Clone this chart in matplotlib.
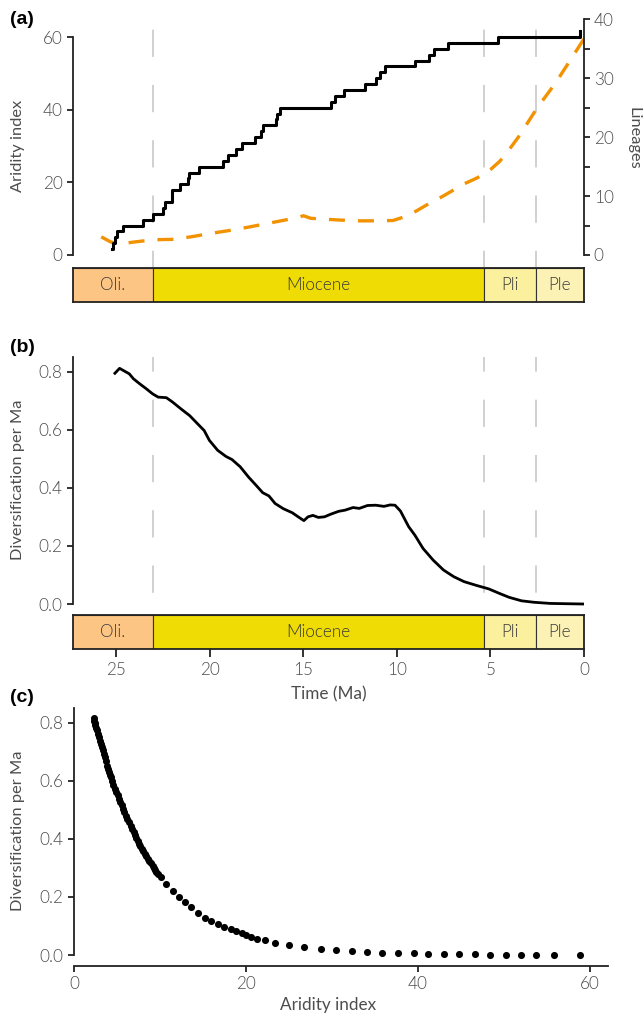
import numpy as np
import matplotlib.pyplot as plt
from matplotlib.patches import Rectangle

plt.rcParams['font.family'] = ['Lato', 'DejaVu Sans']
plt.rcParams['font.weight'] = 300
plt.rcParams['lines.scale_dashes'] = False

# lineages through time (step line), Ma and number of lineages
ltt_time = [25.24, 25.18, 25.09, 24.97, 24.65, 23.55, 23.05, 22.52, 22.40, 22.04,
            22.00, 21.59, 21.15, 21.10, 20.56, 19.30, 19.05, 18.59, 18.26, 17.60,
            17.27, 17.17, 16.46, 16.40, 16.24, 13.54, 13.32, 12.82, 11.68, 11.13,
            10.91, 10.62, 9.04, 8.27, 8.01, 7.29, 4.61, 0.20]
ltt_n = [1, 2, 3, 4, 5, 6, 7, 8, 9, 10,
         11, 12, 13, 14, 15, 16, 17, 18, 19, 20,
         21, 22, 23, 24, 25, 26, 27, 28, 29, 30,
         31, 32, 33, 34, 35, 36, 37, 38]

# aridity index through time (dashed orange)
arid_time = [25.8, 25.3, 24.9, 24.0, 23.0, 22.0, 21.0, 20.0, 19.0, 18.0, 17.0, 16.0,
             15.3, 15.0, 14.6, 14.0, 13.0, 12.0, 11.0, 10.2, 9.6, 9.0, 8.4, 7.5, 7.0,
             6.4, 5.8, 5.35, 5.0, 4.5, 4.0, 3.5, 3.0, 2.5, 2.0, 1.5, 1.0, 0.5, 0.0]
arid_val = [5.0, 3.6, 3.0, 3.6, 4.2, 4.3, 5.0, 5.9, 6.7, 7.6, 8.6, 9.6,
            10.3, 10.8, 10.1, 9.9, 9.6, 9.4, 9.4, 9.5, 10.5, 12.0, 13.8, 16.3, 17.8,
            19.6, 21.0, 22.2, 23.5, 25.8, 29.0, 32.5, 36.5, 40.5, 44.0, 47.5, 51.5, 55.5, 59.5]

# diversification rate through time
div_time = [25.07, 24.82, 24.63, 24.30, 24.08, 23.75, 23.42, 23.05, 22.76, 22.32,
            21.99, 21.55, 21.07, 20.68, 20.30, 20.02, 19.58, 19.14, 18.81, 18.37,
            17.93, 17.49, 17.17, 16.84, 16.51, 16.07, 15.59, 15.23, 14.97, 14.75,
            14.49, 14.20, 13.87, 13.54, 13.11, 12.77, 12.34, 12.01, 11.57, 11.13,
            10.69, 10.36, 10.10, 9.81, 9.37, 9.04, 8.60, 8.06, 7.51, 6.96,
            6.41, 5.75, 5.09, 4.54, 4.00, 3.34, 2.68, 1.80, 0.92, 0.00]
div_rate = [0.794, 0.811, 0.804, 0.792, 0.775, 0.758, 0.742, 0.723, 0.712, 0.710,
            0.695, 0.672, 0.648, 0.622, 0.597, 0.563, 0.529, 0.508, 0.497, 0.472,
            0.437, 0.406, 0.383, 0.372, 0.346, 0.328, 0.314, 0.298, 0.287, 0.300,
            0.305, 0.298, 0.300, 0.309, 0.319, 0.323, 0.332, 0.329, 0.339, 0.340,
            0.336, 0.341, 0.340, 0.320, 0.266, 0.237, 0.191, 0.151, 0.117, 0.094,
            0.077, 0.064, 0.052, 0.037, 0.023, 0.011, 0.006, 0.002, 0.001, 0.000]

# diversification vs aridity (panel c)
sc_arid = [2.29, 2.35, 2.42, 2.48, 2.56, 2.63, 2.74, 2.86, 2.98, 3.10, 3.22, 3.34,
           3.46, 3.58, 3.70, 3.82, 3.96, 4.10, 4.20, 4.30, 4.44, 4.58, 4.75, 4.92,
           5.08, 5.25, 5.40, 5.54, 5.70, 5.87, 6.04, 6.21, 6.40, 6.59, 6.75, 6.92,
           7.09, 7.26, 7.40, 7.54, 7.71, 7.88, 8.05, 8.21, 8.40, 8.59, 8.78, 8.97,
           9.14, 9.31, 9.43, 9.55, 9.80, 10.12, 10.74, 11.46, 12.22, 12.89, 13.60,
           14.42, 15.18, 15.99, 16.71, 17.47, 18.23, 18.85, 19.57, 20.05, 20.62,
           21.29, 22.2, 23.4, 25.06, 26.8, 28.7, 30.5, 32.3, 34.1, 35.85, 37.7,
           39.5, 41.2, 43.05, 44.8, 46.6, 48.4, 50.2, 51.94, 53.7, 55.85, 58.85]
sc_div = [0.815, 0.805, 0.797, 0.790, 0.781, 0.773, 0.762, 0.750, 0.738, 0.727, 0.715, 0.704,
          0.692, 0.681, 0.666, 0.652, 0.640, 0.629, 0.620, 0.612, 0.598, 0.584, 0.572, 0.561,
          0.550, 0.538, 0.526, 0.515, 0.503, 0.492, 0.480, 0.469, 0.456, 0.443, 0.433, 0.423,
          0.412, 0.401, 0.392, 0.383, 0.374, 0.366, 0.357, 0.349, 0.340, 0.332, 0.323, 0.315,
          0.306, 0.298, 0.292, 0.286, 0.278, 0.267, 0.246, 0.221, 0.200, 0.183, 0.164,
          0.146, 0.129, 0.118, 0.105, 0.096, 0.088, 0.081, 0.074, 0.069, 0.063,
          0.056, 0.051, 0.041, 0.033, 0.026, 0.022, 0.016, 0.013, 0.009, 0.008, 0.007,
          0.006, 0.005, 0.003, 0.003, 0.002, 0.001, 0.001, 0.001, 0.0, 0.0, 0.0]

# geological epochs
epoch_names = ['Oli.', 'Miocene', 'Pli', 'Ple']
epoch_start = [33.9, 23.03, 5.333, 2.58]
epoch_end = [23.03, 5.333, 2.58, 0.0]
epoch_colors = ['#fdc583', '#efdc04', '#faf09e', '#fdf2b6']
boundaries = [23.03, 5.333, 2.58]

W, H = 644, 1015
txt = '#4d4d4d'
ink = '#222222'
orange = '#f39200'
vgrey = '#c8c8c8'
xmax = 27.31
fs = 12.3     # tick labels / epoch names
lfs = 11.8    # axis titles


def box(l, t, r, b):
    return [l / W, 1 - b / H, (r - l) / W, (b - t) / H]


def style_left(ax):
    for s in ['top', 'right', 'bottom']:
        ax.spines[s].set_visible(False)
    ax.spines['left'].set_color(ink)
    ax.spines['left'].set_linewidth(1.3)
    ax.tick_params(axis='y', colors=ink, labelcolor=txt, labelsize=fs,
                   length=4, width=1.3, pad=3.5)
    ax.set_xticks([])
    ax.patch.set_alpha(0)


def timescale(rect, ticks):
    bx = fig.add_axes(rect)
    bx.set_xlim(xmax, 0)
    bx.set_ylim(0, 1)
    for i in range(len(epoch_names)):
        bx.add_patch(Rectangle((epoch_end[i], 0), epoch_start[i] - epoch_end[i], 1,
                               facecolor=epoch_colors[i], edgecolor='#333333', lw=0.8))
        mid = (min(epoch_start[i], xmax) + epoch_end[i]) / 2
        bx.text(mid, 0.5, epoch_names[i], ha='center', va='center',
                fontsize=fs, color='#3a3a3a')
    for s in bx.spines.values():
        s.set_color(ink)
        s.set_linewidth(1.3)
    bx.set_yticks([])
    if ticks:
        bx.set_xticks([25, 20, 15, 10, 5, 0])
        bx.tick_params(axis='x', colors=ink, labelcolor=txt, labelsize=fs,
                       length=5.5, width=1.3, pad=4)
    else:
        bx.set_xticks([])
    return bx


fig = plt.figure(figsize=(6.44, 10.15), dpi=100)

# ---- panel (a)
ax_a = fig.add_axes(box(73, 15, 584, 262))
style_left(ax_a)
lo, hi = -1.93, 66.06
ax_a.set_xlim(xmax, 0)
ax_a.set_ylim(lo, hi)
ax_a.spines['left'].set_bounds(0, 60)
ax_a.set_yticks([0, 20, 40, 60])
for t in boundaries:
    ax_a.plot([t, t], [-6.34, 62.5], color=vgrey, lw=1.2,
              ls=(0, (19.6, 20.2)), clip_on=False, zorder=1)
ax_a.plot(arid_time, arid_val, color=orange, lw=2.4, ls=(0, (11.5, 9.4)), zorder=3)
ax_a.set_ylabel('Aridity index', fontsize=lfs, color=txt)
ax_a.yaxis.set_label_coords(-0.1076, 0.47)
ax_a.yaxis.label.set_va('center')

ax_l = ax_a.twinx()
ax_l.set_xlim(xmax, 0)
ax_l.set_ylim(lo * 37 / 60, hi * 37 / 60)
ax_l.plot(ltt_time, ltt_n, drawstyle='steps-post', color='black', lw=2.2, zorder=4)
for s in ['top', 'left', 'bottom']:
    ax_l.spines[s].set_visible(False)
ax_l.spines['right'].set_bounds(0, 40)
ax_l.spines['right'].set_color(ink)
ax_l.spines['right'].set_linewidth(1.3)
ax_l.set_yticks([0, 10, 20, 30, 40])
ax_l.set_yticks([5, 15, 25, 35], minor=True)
ax_l.tick_params(axis='y', which='both', colors=ink, labelcolor=txt, labelsize=fs,
                 length=4, width=1.3, pad=3)
ax_l.set_ylabel('Lineages', fontsize=lfs, color=txt, rotation=-90)
ax_l.yaxis.set_label_coords(1.096, 0.502)
ax_l.yaxis.label.set_va('center')

timescale(box(73, 268, 584, 302), False)

# ---- panel (b)
ax_b = fig.add_axes(box(73, 357, 584, 610))
style_left(ax_b)
ax_b.set_xlim(xmax, 0)
ax_b.set_ylim(-0.0206, 0.85)
ax_b.spines['left'].set_bounds(0, 0.85)
ax_b.set_yticks([0, 0.2, 0.4, 0.6, 0.8])
ax_b.set_yticklabels(['0.0', '0.2', '0.4', '0.6', '0.8'])
for t in boundaries:
    ax_b.plot([t, t], [-0.1514, 0.85], color=vgrey, lw=1.2,
              ls=(0, (19.6, 20.2)), clip_on=False, zorder=1)
ax_b.plot(div_time, div_rate, color='black', lw=2.0, zorder=3)
ax_b.set_ylabel('Diversification per Ma', fontsize=lfs, color=txt)
ax_b.yaxis.set_label_coords(-0.1076, 0.514)
ax_b.yaxis.label.set_va('center')

bx_b = timescale(box(73, 615, 584, 649), True)
bx_b.set_xlabel('Time (Ma)', fontsize=fs, color=txt)
bx_b.xaxis.set_label_coords(0.5, -1.32)
bx_b.xaxis.label.set_va('center')

# ---- panel (c)
ax_c = fig.add_axes(box(74, 708, 608, 960))
for s in ['top', 'right']:
    ax_c.spines[s].set_visible(False)
for s in ['left', 'bottom']:
    ax_c.spines[s].set_color(ink)
    ax_c.spines[s].set_linewidth(1.3)
ax_c.spines['bottom'].set_position(('outward', 4.3))
ax_c.spines['left'].set_bounds(0, 0.85)
ax_c.set_xlim(0, 62.1)
ax_c.set_ylim(-0.0172, 0.85)
ax_c.scatter(sc_arid, sc_div, s=26, color='black', linewidths=0, clip_on=False)
ax_c.set_xticks([0, 20, 40, 60])
ax_c.set_yticks([0, 0.2, 0.4, 0.6, 0.8])
ax_c.set_yticklabels(['0.0', '0.2', '0.4', '0.6', '0.8'])
ax_c.tick_params(colors=ink, labelcolor=txt, labelsize=fs, length=4, width=1.3, pad=3.5)
ax_c.set_ylabel('Diversification per Ma', fontsize=lfs, color=txt)
ax_c.yaxis.set_label_coords(-0.105, 0.512)
ax_c.yaxis.label.set_va('center')
ax_c.set_xlabel('Aridity index', fontsize=fs, color=txt)
ax_c.xaxis.set_label_coords(0.476, -0.179)
ax_c.xaxis.label.set_va('center')

# panel letters
for lab, y in [('(a)', 19), ('(b)', 347), ('(c)', 697)]:
    fig.text(10 / W, 1 - y / H, lab, fontsize=14, fontweight='bold',
             family='Liberation Sans', va='center', ha='left', color='black')

fig.savefig('out.png', dpi=100)
